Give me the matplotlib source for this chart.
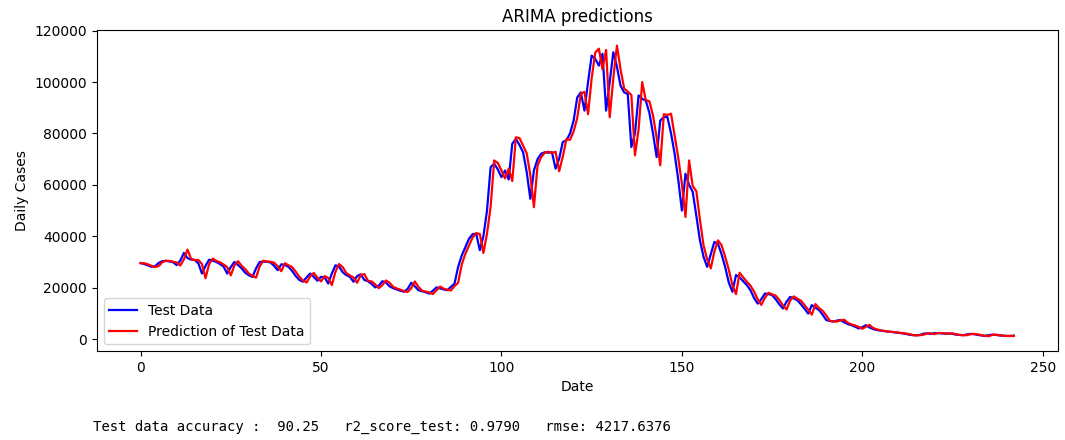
import matplotlib
matplotlib.use("Agg")
import matplotlib.pyplot as plt
import numpy as np

test_data = [
    29600, 29200, 28700, 28100, 28300, 29600, 30300, 30400, 30200, 29900,
    28800, 30500, 33500, 31500, 30900, 30800, 29500, 25500, 28500, 30900,
    30500, 30000, 29200, 28200, 25500, 28000, 30000, 28800, 27500, 25800,
    24800, 24200, 27500, 30000, 30100, 30100, 29800, 28500, 26800, 29100,
    28800, 28100, 26500, 24500, 23000, 22300, 24000, 25500, 24200, 22700,
    24200, 24000, 21600, 25500, 28700, 28200, 26000, 24900, 24200, 22300,
    24500, 25200, 23000, 22500, 21500, 20100, 20800, 22500, 22000, 20500,
    19800, 19300, 18800, 18400, 19500, 21900, 20500, 19000, 18600, 18200,
    17700, 18800, 20100, 19700, 19300, 19000, 20300, 21600, 28100, 32500,
    35800, 39000, 40800, 41000, 34600, 40000, 50000, 66900, 68200, 66000,
    63000, 65600, 62100, 76000, 77900, 75500, 72700, 65000, 54600, 65600,
    70000, 72100, 72700, 72500, 72700, 66300, 70200, 76700, 77300, 80000,
    85000, 94000, 96000, 88900, 100000, 110300, 109000, 106400, 111000, 88900,
    100000, 111600, 106000, 98600, 96000, 95400, 74700, 80000, 94800, 93500,
    92800, 88000, 80000, 70800, 85000, 86400, 86400, 80000, 72000, 62000,
    50000, 64300, 60000, 57300, 48000, 38400, 32000, 28100, 33000, 37800,
    37000, 33000, 28000, 22000, 18400, 24900, 24000, 22500, 21000, 19000,
    16000, 13800, 15500, 17700, 17500, 17100, 15500, 13500, 11900, 14500,
    16400, 15800, 15100, 13500, 11800, 9900, 13200, 12200, 11300, 9500,
    7400, 7000, 6800, 7200, 7400, 6500, 5800, 5400, 4800, 4100,
    4600, 5400, 4500, 3900, 3500, 3300, 3100, 2900, 2800, 2600,
    2400, 2300, 2000, 1700, 1500, 1500, 1600, 2100, 2200, 2000,
    2300, 2300, 2200, 2100, 2200, 2000, 1700, 1600, 1500, 1800,
    2000, 1900, 1600, 1400, 1200, 1500, 1700, 1600, 1400, 1300,
    1200, 1200, 1300,
]

predictions = [
    29500, 29500, 29100, 28500, 28000, 28400, 29900, 30500, 30400, 30100,
    29800, 28600, 31000, 34800, 31200, 30700, 30800, 29200, 23700, 29200,
    31300, 30400, 29900, 29000, 28000, 24800, 28600, 30300, 28500, 27200,
    25500, 24600, 23900, 28300, 30500, 30200, 30100, 29700, 28300, 26400,
    29500, 28700, 28000, 26200, 24200, 22800, 22000, 24400, 25700, 23900,
    22400, 24500, 23800, 21000, 26200, 29200, 28000, 25700, 24700, 24000,
    21900, 24900, 25300, 22700, 22400, 21300, 19800, 21000, 22800, 21900,
    20300, 19700, 19200, 18700, 18300, 19800, 22400, 20300, 18800, 18500,
    18100, 17500, 19000, 20400, 19600, 19200, 18900, 20600, 21900, 29000,
    33200, 36400, 39500, 41200, 40900, 33500, 41000, 51500, 69500, 68500,
    65600, 62500, 66300, 61500, 78500, 78200, 75200, 72300, 63800, 51300,
    67500, 70800, 72500, 72900, 72400, 72900, 65300, 71000, 77800, 77500,
    80800, 86000, 95500, 96200, 87500, 101500, 111500, 113000, 105000, 112500,
    86300, 101500, 114200, 105000, 97500, 96300, 95000, 71500, 81500, 100000,
    93000, 92500, 87000, 78500, 67600, 87500, 87200, 87700, 79000, 70500,
    60500, 47500, 69500, 59500, 57600, 46500, 36500, 31000, 27500, 34000,
    38400, 36500, 32000, 27000, 21000, 17500, 25800, 24000, 22300, 20800,
    18500, 15500, 13300, 16000, 18000, 17400, 16900, 15200, 13100, 11500,
    15000, 16600, 15700, 14900, 13200, 11400, 9500, 13600, 12100, 11000,
    9200, 7100, 6900, 6800, 7300, 7500, 6300, 5700, 5300, 4700,
    4000, 4800, 5500, 4300, 3800, 3400, 3200, 3000, 2800, 2700,
    2500, 2300, 2200, 1900, 1600, 1400, 1500, 1700, 2200, 2200,
    1900, 2400, 2300, 2200, 2100, 2200, 1900, 1600, 1500, 1500,
    1900, 2000, 1800, 1500, 1300, 1100, 1600, 1700, 1500, 1300,
    1200, 1200, 1200,
]

title = "ARIMA predictions"
x_label = "Date"
y_label = "Daily Cases"
series_labels = ["Test Data", "Prediction of Test Data"]
metrics_text = "Test data accuracy :  90.25   r2_score_test: 0.9790   rmse: 4217.6376"

fig = plt.figure(figsize=(10.65, 4.4), dpi=100)
ax = fig.add_axes([0.091, 0.202, 0.902, 0.730])
x = np.arange(len(test_data))
ax.plot(x, test_data, color="blue", linewidth=1.6, label=series_labels[0])
ax.plot(np.arange(len(predictions)), predictions, color="red", linewidth=1.6, label=series_labels[1])
ax.set_ylim(-4700, 120300)
ax.set_title(title, fontsize=12)
ax.set_xlabel(x_label, fontsize=10)
ax.set_ylabel(y_label, fontsize=10)
ax.tick_params(labelsize=10)
ax.legend(loc="lower left", fontsize=10)

fig.text(0.087, 0.03, metrics_text, family="DejaVu Sans Mono", fontsize=10,
         ha="left", va="center")

fig.savefig("out.png", dpi=100)
